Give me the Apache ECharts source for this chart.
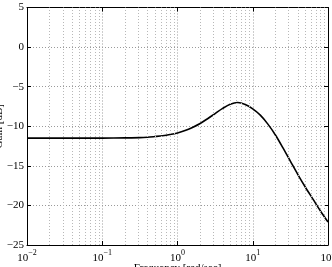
<!DOCTYPE html>
<html>
<head>
<meta charset="utf-8">
<script src="https://cdn.jsdelivr.net/npm/echarts@6/dist/echarts.min.js"></script>
<style>
  html, body { margin: 0; padding: 0; background: #fff; }
  #main { width: 332px; height: 267px; }
</style>
</head>
<body>
<div id="main"></div>
<script>
// frequency [rad/sec] and gain [dB]
var freq = [0.01, 0.03, 0.1, 0.2, 0.316, 0.398, 0.501, 0.631, 0.794, 1.0, 1.26, 1.58, 2.0, 2.51, 3.16, 3.98, 5.01, 6.31, 7.94, 10.0, 12.6, 15.8, 20.0, 25.1, 31.6, 39.8, 50.1, 63.1, 79.4, 100];
var gain = [-11.5, -11.5, -11.5, -11.47, -11.44, -11.39, -11.3, -11.2, -11.05, -10.85, -10.55, -10.15, -9.65, -9.05, -8.4, -7.75, -7.22, -7.0, -7.25, -7.8, -8.6, -9.7, -11.1, -12.7, -14.4, -16.1, -17.7, -19.2, -20.7, -22.1];
var yTicks = [-25, -20, -15, -10, -5, 0, 5];

var font = 'Liberation Serif';
var chart = echarts.init(document.getElementById('main'));

var points = [];
for (var i = 0; i < freq.length; i++) {
  points.push([freq[i], gain[i]]);
}

// minor log grid lines (2..9 in every decade)
var minorLines = [];
for (var d = -2; d < 2; d++) {
  for (var k = 2; k < 10; k++) {
    minorLines.push({ xAxis: k * Math.pow(10, d) });
  }
}

function minus(s) {
  return String(s).replace('-', '\u2212');
}

var gridDots = { color: '#9a9a9a', type: [1, 2], width: 1 };

var option = {
  animation: false,
  backgroundColor: '#fff',
  grid: { left: 27, right: 4, top: 7.5, bottom: 22, containLabel: false, outerBoundsMode: 'none' },
  xAxis: [{
    type: 'log',
    logBase: 10,
    min: 0.01,
    max: 100,
    name: 'Frequency [rad/sec]',
    nameLocation: 'middle',
    nameGap: 18,
    nameMoveOverlap: false,
    nameTextStyle: { fontFamily: font, fontSize: 11, color: '#000' },
    axisLine: { onZero: false, lineStyle: { color: '#000', width: 1 } },
    axisTick: { inside: true, length: 4, lineStyle: { color: '#000' } },
    splitLine: { show: true, lineStyle: gridDots },
    axisLabel: {
      margin: 4,
      color: '#000',
      formatter: function(v) {
        var e = Math.round(Math.log(v) / Math.LN10);
        return '{b|10}{s|' + minus(e) + '}';
      },
      rich: {
        b: { fontFamily: font, fontSize: 11, color: '#000', verticalAlign: 'bottom', lineHeight: 15 },
        s: { fontFamily: font, fontSize: 8, color: '#000', verticalAlign: 'top', lineHeight: 15 }
      }
    }
  }, {
    type: 'log',
    logBase: 10,
    min: 0.01,
    max: 100,
    position: 'top',
    axisLine: { show: true, onZero: false, lineStyle: { color: '#000', width: 1 } },
    axisTick: { show: true, inside: true, length: 4, lineStyle: { color: '#000' } },
    axisLabel: { show: false },
    splitLine: { show: false }
  }],
  yAxis: [{
    type: 'value',
    min: yTicks[0],
    max: yTicks[yTicks.length - 1],
    interval: 5,
    name: 'Gain [dB]',
    nameLocation: 'middle',
    nameGap: 22.5,
    nameMoveOverlap: false,
    nameTextStyle: { fontFamily: font, fontSize: 11, color: '#000' },
    axisLine: { show: true, onZero: false, lineStyle: { color: '#000', width: 1 } },
    axisTick: { show: true, inside: true, length: 4, lineStyle: { color: '#000' } },
    splitLine: { show: true, lineStyle: gridDots },
    axisLabel: {
      margin: 3,
      color: '#000',
      fontFamily: font,
      fontSize: 11,
      formatter: function(v) { return minus(v); }
    }
  }, {
    type: 'value',
    min: yTicks[0],
    max: yTicks[yTicks.length - 1],
    interval: 5,
    position: 'right',
    axisLine: { show: true, onZero: false, lineStyle: { color: '#000', width: 1 } },
    axisTick: { show: true, inside: true, length: 4, lineStyle: { color: '#000' } },
    axisLabel: { show: false },
    splitLine: { show: false }
  }],
  series: [{
    type: 'line',
    data: points,
    smooth: 0.3,
    showSymbol: false,
    lineStyle: { color: '#000', width: 1.6 },
    markLine: {
      silent: true,
      symbol: 'none',
      animation: false,
      label: { show: false },
      lineStyle: { color: '#b8b8b8', type: [1, 2], width: 1 },
      data: minorLines
    },
    z: 3
  }]
};

chart.setOption(option);
</script>
</body>
</html>
